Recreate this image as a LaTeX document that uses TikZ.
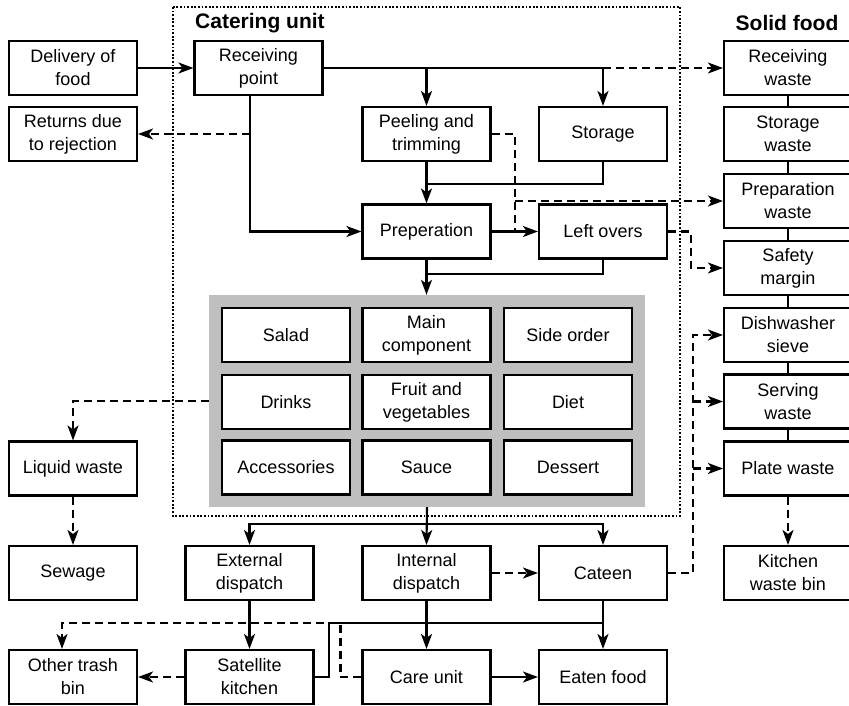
\documentclass[tikz,border=0pt]{standalone}
\usepackage{fontspec}
\setmainfont{Liberation Sans}
\usetikzlibrary{arrows.meta,calc}
\definecolor{gridgray}{RGB}{191,191,191}
\tikzset{
  box/.style={draw, line width=2.1pt, fill=white, minimum width=128pt, minimum height=54pt,
    inner sep=0pt, align=center, font=\fontsize{18}{23}\selectfont},
  conn/.style={line width=2.1pt},
  arr/.style={conn, -{Stealth[length=15pt,width=11pt,inset=4pt]}},
  dline/.style={conn, dash pattern=on 8pt off 5pt},
  darr/.style={arr, dash pattern=on 8pt off 5pt},
  title/.style={font=\bfseries\fontsize{21}{25}\selectfont, inner sep=0pt}
}
\begin{document}
\begin{tikzpicture}[x=1pt,y=-1pt]
\useasboundingbox (0,0) rectangle (849,705);
% frame
\draw[line width=1.3pt, dash pattern=on 1.8pt off 1.8pt] (173,7) rectangle (680,516);
\node[title, anchor=west] (tcu) at (195,23) {Catering unit};
\node[title] (tsf) at (787,23) {Solid food};
% gray grid
\node[fill=gridgray, minimum width=436pt, minimum height=212pt, inner sep=0pt] (grid) at (427,401) {};
% nodes
\node[box] (deliv) at (73,68) {Delivery of\\food};
\node[box] (recv) at (258.5,68) {Receiving\\point};
\node[box] (ret) at (73,134) {Returns due\\to rejection};
\node[box] (peel) at (426.5,134) {Peeling and\\trimming};
\node[box] (stor) at (603,134) {Storage};
\node[box] (prep) at (426.5,231.5) {Preperation};
\node[box] (left) at (603,231.5) {Left overs};
\node[box] (rw) at (788,68) {Receiving\\waste};
\node[box] (sw) at (788,134) {Storage\\waste};
\node[box] (pw) at (788,201) {Preparation\\waste};
\node[box] (sm) at (788,268) {Safety\\margin};
\node[box] (dw) at (788,335) {Dishwasher\\sieve};
\node[box] (sv) at (788,401.5) {Serving\\waste};
\node[box] (pl) at (788,468.5) {Plate waste};
\node[box] (kb) at (788,573) {Kitchen\\waste bin};
\node[box] (salad) at (286,335) {Salad};
\node[box] (main) at (426.5,335) {Main\\component};
\node[box] (side) at (568,335) {Side order};
\node[box] (drinks) at (286,402) {Drinks};
\node[box] (fruit) at (426.5,402) {Fruit and\\vegetables};
\node[box] (diet) at (568,402) {Diet};
\node[box] (acc) at (286,467.5) {Accessories};
\node[box] (sauce) at (426.5,467.5) {Sauce};
\node[box] (dess) at (568,467.5) {Dessert};
\node[box] (liq) at (73,468.5) {Liquid waste};
\node[box] (sew) at (73,573) {Sewage};
\node[box] (ext) at (249.5,573) {External\\dispatch};
\node[box] (int) at (426.5,573) {Internal\\dispatch};
\node[box] (cat) at (603,573) {Cateen};
\node[box] (oth) at (73,677) {Other trash\\bin};
\node[box] (sat) at (249.5,677) {Satellite\\kitchen};
\node[box] (care) at (426.5,677) {Care unit};
\node[box] (eat) at (603,677) {Eaten food};
% helper coordinates
\coordinate (rb) at ([xshift=-8.5pt]recv.south);
\coordinate (dm) at ($(prep.east)!0.5!(left.west)$);
\coordinate (cv) at ($(cat.east)+(25,0)$);
\coordinate (gb) at ($(grid.south)+(0,17)$);
\coordinate (ot) at ([xshift=-11pt]oth.north);
% connectors
\draw[arr] (deliv) -- (recv);
\draw[conn] (recv.east) -- (recv.east -| stor);
\draw[arr] (recv.east -| peel) -- (peel.north);
\draw[arr] (recv.east -| stor) -- (stor.north);
\draw[darr] (recv.east -| stor) -- (rw.west);
\draw[arr] (rb) |- (prep.west);
\draw[darr] (rb |- ret.east) -- (ret.east);
\draw[arr] (peel) -- (prep);
\draw[conn] (stor.south) -- ++(0,22) -| (peel.south);
\draw[dline] (peel.east) -| (dm);
\draw[darr] (dm |- pw.west) -- (pw.west);
\draw[arr] (prep) -- (left);
\draw[darr] (left.east) -- ++(23,0) |- (sm.west);
\draw[arr] (prep.south) -- (prep.south |- grid.north);
\draw[conn] (left.south) -- ++(0,14) -| (prep.south);
\draw[conn] (rw) -- (sw);
\draw[conn] (sw) -- (pw);
\draw[conn] (pw) -- (sm);
\draw[conn] (sm) -- (dw);
\draw[conn] (dw) -- (sv);
\draw[conn] (sv) -- (pl);
\draw[darr] (pl) -- (kb);
\draw[darr] (grid.west) -| (liq.north);
\draw[darr] (liq) -- (sew);
\draw[arr] (grid.south) -- (int.north);
\draw[arr] (gb) -| (ext.north);
\draw[arr] (gb) -| (cat.north);
\draw[darr] (int) -- (cat);
\draw[darr] (cat.east) -- (cv) |- (dw.west);
\draw[darr] (cv |- sv.west) -- (sv.west);
\draw[darr] (cv |- pl.west) -- (pl.west);
\draw[arr] (ext) -- (sat);
\draw[arr] (int) -- (care);
\draw[arr] (cat) -- (eat);
\draw[conn] (sat.east) -- ++(14,0) |- ($(cat.south)!0.46!(eat.north)$);
\draw[darr] (care.west) -- ++(-21,0) -- ++(0,-54) -| (ot);
\draw[darr] (sat) -- (oth);
\draw[arr] (care) -- (eat);
\end{tikzpicture}
\end{document}
